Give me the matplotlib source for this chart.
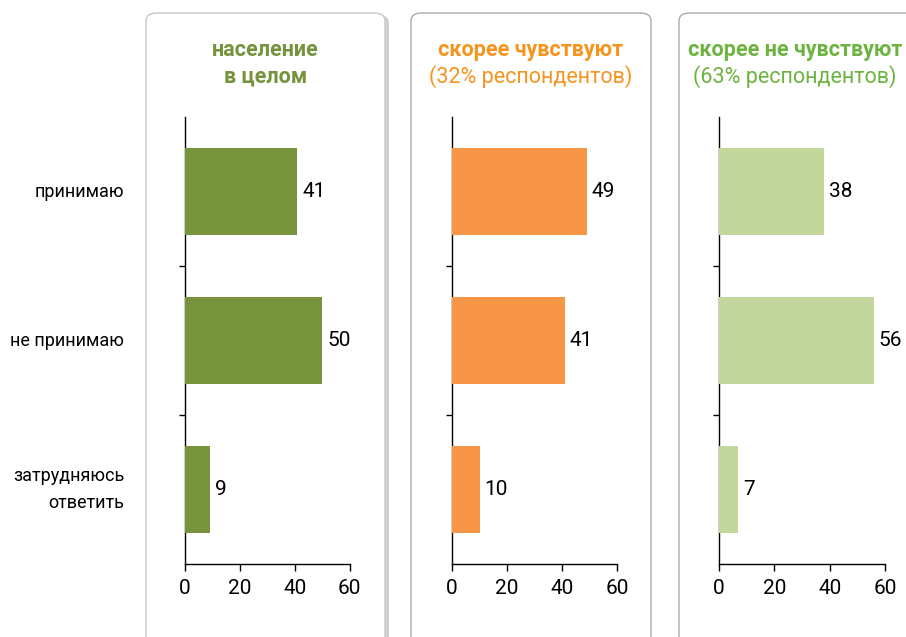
import matplotlib
matplotlib.use('Agg')
import matplotlib.pyplot as plt
from matplotlib.patches import FancyBboxPatch

plt.rcParams['font.family'] = ['Roboto', 'DejaVu Sans']
plt.rcParams['font.stretch'] = 'condensed'

categories = ['принимаю', 'не принимаю', 'затрудняюсь\nответить']
total = [41, 50, 9]
feel = [49, 41, 10]
not_feel = [38, 56, 7]
x_ticks = [0, 20, 40, 60]

panels = [
    ('население', 'в целом', total, '#77933c', '#76923c', True),
    ('скорее чувствуют', '(32% респондентов)', feel, '#f79646', '#f7941d', False),
    ('скорее не чувствуют', '(63% респондентов)', not_feel, '#c3d69b', '#6db33f', False),
]

W, H = 906, 637
fig = plt.figure(figsize=(W / 100, H / 100), dpi=100, facecolor='white')

# panel cards (pixel coords: left, right)
cards = [(146, 385), (411, 651), (679, 940)]
axes_x = [(185, 349.5), (452, 617), (719, 885)]
ax_top, ax_bot = 117, 564

for i, (t1, t2, vals, bar_c, title_c, bold2) in enumerate(panels):
    cl, cr = cards[i]
    # shadow on the first card
    if i == 0:
        sh = FancyBboxPatch(((cl + 4) / W, -0.05), (cr - cl) / W, (H - 15) / H + 0.05,
                            boxstyle='round,pad=0,rounding_size=0.012',
                            transform=fig.transFigure, fc='#d0d0d0', ec='none', zorder=0)
        fig.patches.append(sh)
    box = FancyBboxPatch((cl / W, -0.05), (cr - cl) / W, (H - 13) / H + 0.05,
                         boxstyle='round,pad=0,rounding_size=0.012',
                         transform=fig.transFigure, fc='white',
                         ec='#c8c8c8' if i == 0 else '#ababab', lw=1.0, zorder=1)
    fig.patches.append(box)

    xl, xr = axes_x[i]
    ax = fig.add_axes([xl / W, (H - ax_bot) / H, (xr - xl) / W, (ax_bot - ax_top) / H])
    ax.set_zorder(2)
    ax.patch.set_alpha(0)
    y = list(range(len(categories)))
    ax.barh(y, vals, height=0.59, color=bar_c, zorder=3)
    for yy, v in zip(y, vals):
        ax.text(v + 1.8, yy, str(v), va='center', ha='left', fontsize=15, color='black')
    ax.set_xlim(0, 60)
    ax.set_ylim(2.5, -0.5)
    ax.set_xticks(x_ticks)
    ax.tick_params(axis='x', direction='out', length=5, width=1, labelsize=15, pad=6)
    ax.set_yticks([0.5, 1.5])
    ax.set_yticklabels([])
    ax.tick_params(axis='y', direction='out', length=4, width=1)
    for s in ['top', 'right']:
        ax.spines[s].set_visible(False)
    for s in ['left', 'bottom']:
        ax.spines[s].set_linewidth(1.0)
    if i == 0:
        for yy, c in zip(y, categories):
            ax.text(-0.37, yy, c, transform=ax.get_yaxis_transform(), ha='right', va='center',
                    fontsize=13, linespacing=1.7)

    cx = (cl + cr) / 2 / W if i < 2 else 795 / W
    fig.text(cx, 1 - 50 / H, t1, ha='center', va='center', fontsize=15.5,
             fontweight='bold', color=title_c)
    fig.text(cx, 1 - 77 / H, t2, ha='center', va='center', fontsize=15.5,
             fontweight='bold' if bold2 else 'normal', color=title_c)

fig.savefig('out.png', dpi=100)
